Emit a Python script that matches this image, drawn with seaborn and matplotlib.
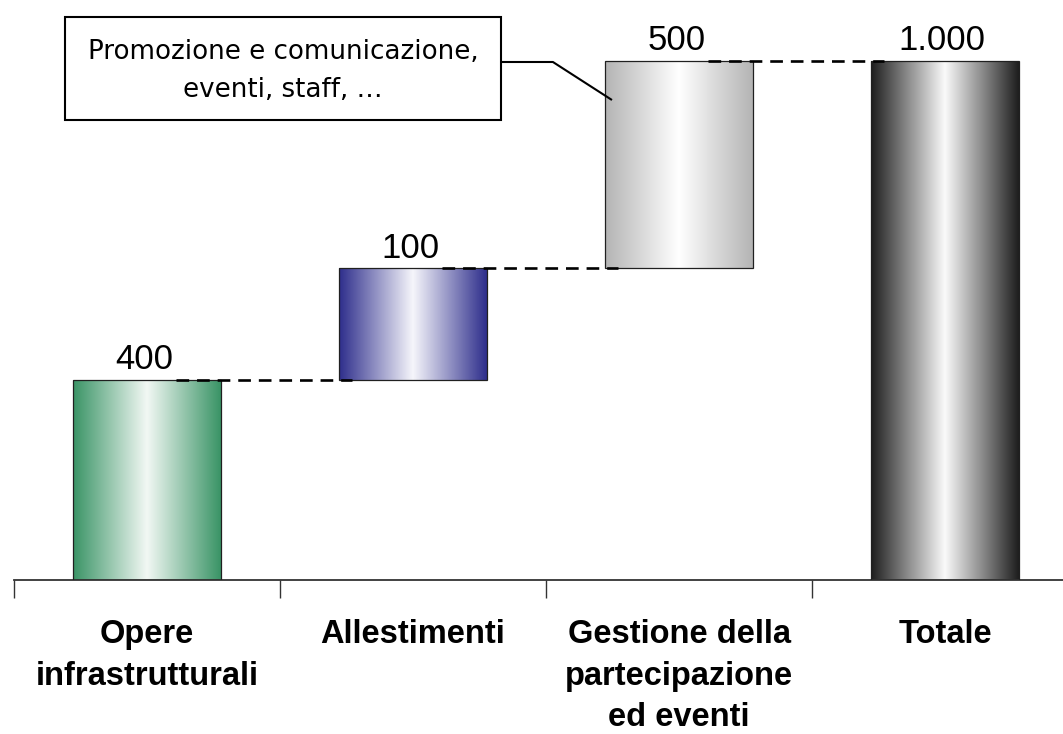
import numpy as np
import pandas as pd
import seaborn as sns
import matplotlib
matplotlib.use("Agg")
import matplotlib.pyplot as plt
from matplotlib.colors import LinearSegmentedColormap
from matplotlib.patches import Rectangle

# ---------------- data ----------------
categories = ["Opere\ninfrastrutturali", "Allestimenti",
              "Gestione della\npartecipazione\ned eventi", "Totale"]
value_labels = ["400", "100", "500", "1.000"]
bar_heights = [386, 214, 400, 1000]          # heights as drawn in the picture
is_total = [False, False, False, True]
callout_text = "Promozione e comunicazione,\neventi, staff, …"

# ---------------- styles ----------------
edge_colors = ["#3a9466", "#2e2e8c", "#b4b4b4", "#1e1e1e"]
center_colors = ["#f2f8f4", "#f6f6fb", "#ffffff", "#fafafa"]

sns.set_theme(style="white")
plt.rcParams["font.family"] = ["DejaVu Sans"]
plt.rcParams["text.color"] = "black"
plt.rcParams["xtick.color"] = "black"

bottoms = []
running = 0
for h, tot in zip(bar_heights, is_total):
    if tot:
        bottoms.append(0)
    else:
        bottoms.append(running)
        running += h

df = pd.DataFrame({"category": categories, "height": bar_heights})

fig = plt.figure(figsize=(10.63, 7.34), dpi=100)
ax = fig.add_axes([14 / 1063, 154 / 734, (1063 - 14) / 1063, 580 / 734])

sns.barplot(data=df, x="category", y="height", order=categories,
            width=0.556, errorbar=None, ax=ax, color="white")

for i, patch in enumerate(ax.patches):
    patch.set_y(bottoms[i])
    patch.set_facecolor("none")
    patch.set_edgecolor("#202020")
    patch.set_linewidth(0.9)
    patch.set_zorder(3)
    x0 = patch.get_x()
    w = patch.get_width()
    cmap = LinearSegmentedColormap.from_list(
        f"g{i}", [(0.0, edge_colors[i]), (0.5, center_colors[i]), (1.0, edge_colors[i])])
    grad = np.linspace(0, 1, 256).reshape(1, -1)
    im = ax.imshow(grad, cmap=cmap, aspect="auto",
                   extent=[x0, x0 + w, bottoms[i], bottoms[i] + bar_heights[i]],
                   zorder=2, interpolation="bicubic")
    im.set_clip_path(patch)
    # value label
    ax.text(x0 + w / 2 - 0.01, bottoms[i] + bar_heights[i] + 21, value_labels[i],
            ha="center", va="baseline", fontsize=25, color="black",
            family=["Liberation Sans", "DejaVu Sans"], zorder=5)

# dashed connectors
tops = [b + h for b, h in zip(bottoms, bar_heights)]
for i in range(len(categories) - 1):
    ax.plot([i + 0.11, i + 1 - 0.23], [tops[i], tops[i]], color="black",
            lw=1.9, dashes=(4.8, 3), zorder=4, solid_capstyle="butt",
            dash_capstyle="butt")

ax.set_xlim(-0.5, -0.5 + (1063 - 14) / 266)
ax.set_ylim(0, 580 / 0.5193)

# callout
ax.add_patch(Rectangle((-0.308, 886), 1.639, 198, facecolor="white",
                       edgecolor="black", lw=1.5, zorder=6))
ax.text(0.511, 980, callout_text, ha="center", va="center", fontsize=18.8,
        linespacing=1.6, color="black", zorder=7)
ax.plot([1.331, 1.526, 1.748], [997.5, 997.5, 924.3], color="black", lw=1.5,
        zorder=7, solid_capstyle="butt")

# axes styling
for s in ["top", "right", "left"]:
    ax.spines[s].set_visible(False)
ax.spines["bottom"].set_color("#333333")
ax.spines["bottom"].set_linewidth(1.3)
ax.set_yticks([])
ax.set_xlabel("")
ax.set_ylabel("")
ax.set_xticks(range(len(categories)))
ax.set_xticklabels(categories, fontsize=23.5, fontweight="bold", color="black",
                   family=["Liberation Sans", "DejaVu Sans"], linespacing=1.45)
ax.tick_params(axis="x", which="major", length=0, pad=28, labelcolor="black")
ax.set_xticks([-0.5, 0.5, 1.5, 2.5], minor=True)
ax.tick_params(axis="x", which="minor", length=13, width=1.0, color="#333333",
               direction="out", bottom=True)

fig.savefig("out.png", dpi=100)
